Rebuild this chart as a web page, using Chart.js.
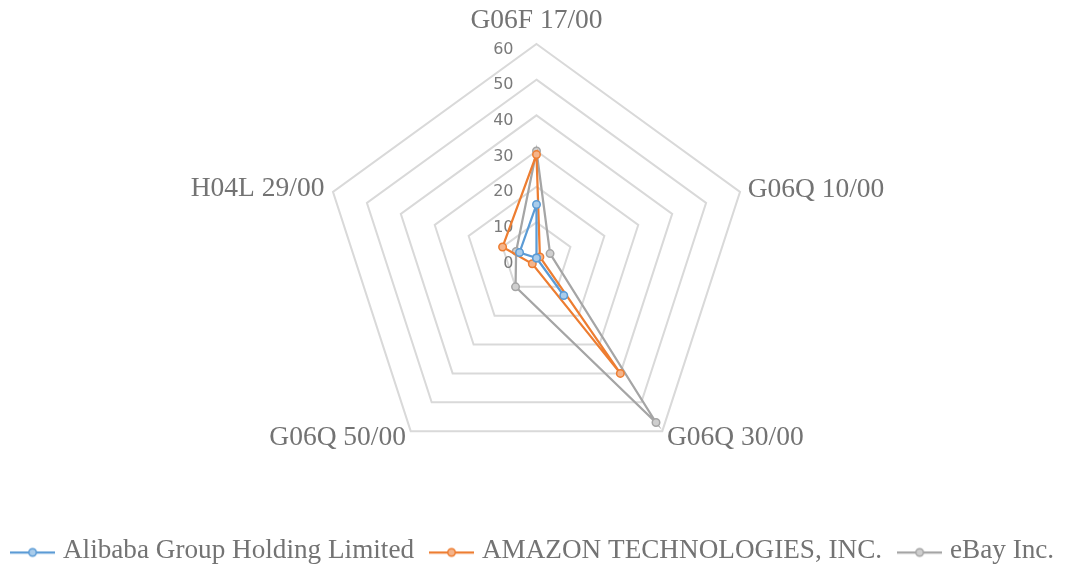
<!DOCTYPE html>
<html>
<head>
<meta charset="utf-8">
<script src="https://cdn.jsdelivr.net/npm/chart.js@4/dist/chart.umd.min.js"></script>
<style>
  html, body { margin: 0; padding: 0; background: #ffffff; }
  canvas { display: block; }
</style>
</head>
<body>
<canvas id="c" width="1074" height="567"></canvas>
<script>
// ---- data ----
const categories = ['G06F 17/00', 'G06Q 10/00', 'G06Q 30/00', 'G06Q 50/00', 'H04L 29/00'];
const seriesNames = ['Alibaba Group Holding Limited', 'AMAZON TECHNOLOGIES, INC.', 'eBay Inc.'];
const alibaba = [15, 0, 13, 0, 5];
const amazon = [29, 1, 40, 2, 10];
const ebay = [30, 4, 57, 10, 6];
const tickMin = 0;
const tickMax = 60;
const tickStep = 10;

// ---- style ----
const lineColors = ['#5B9BD5', '#ED7D31', '#A5A5A5'];
const markerFills = ['#A9CCEB', '#F5B48A', '#CFCFCF'];
const TEXT = '#737373';
const TICKTEXT = '#7a7a7a';
const SERIF = '"Liberation Serif", "Times New Roman", serif';
const labelPad = [23, 8, 8, 8, 9];

function legendMarker(color, fill) {
  const c = document.createElement('canvas');
  c.width = 45; c.height = 20;
  const g = c.getContext('2d');
  const y = 12;
  g.strokeStyle = color;
  g.lineWidth = 2.25;
  g.beginPath(); g.moveTo(0, y); g.lineTo(45, y); g.stroke();
  g.beginPath(); g.arc(22.5, y, 3.75, 0, Math.PI * 2);
  g.fillStyle = fill; g.fill();
  g.lineWidth = 1.5; g.stroke();
  return c;
}
const markers = lineColors.map((c, i) => legendMarker(c, markerFills[i]));

const tickPlugin = {
  id: 'sideTicks',
  beforeDatasetsDraw(chart) {
    const s = chart.scales.r;
    const ctx = chart.ctx;
    ctx.save();
    ctx.font = '16px "DejaVu Sans", sans-serif';
    ctx.fillStyle = TICKTEXT;
    ctx.textAlign = 'right';
    ctx.textBaseline = 'middle';
    s.ticks.forEach(t => {
      const d = s.getDistanceFromCenterForValue(t.value);
      ctx.fillText(String(t.label), s.xCenter - 23, s.yCenter - d + 5.5);
    });
    ctx.restore();
  }
};

function makeDataset(name, values, i) {
  return {
    label: name,
    data: values,
    fill: false,
    borderColor: lineColors[i],
    backgroundColor: lineColors[i],
    borderWidth: 2.25,
    pointRadius: 3.75,
    pointBorderWidth: 1.5,
    pointBackgroundColor: markerFills[i],
    pointBorderColor: lineColors[i],
    tension: 0
  };
}

new Chart(document.getElementById('c'), {
  type: 'radar',
  data: {
    labels: categories,
    datasets: [
      makeDataset(seriesNames[0], alibaba, 0),
      makeDataset(seriesNames[1], amazon, 1),
      makeDataset(seriesNames[2], ebay, 2)
    ]
  },
  options: {
    responsive: false,
    animation: false,
    devicePixelRatio: 1,
    layout: { padding: { left: -13, right: -9, top: 0, bottom: -7 } },
    plugins: {
      legend: {
        position: 'bottom',
        align: 'center',
        labels: {
          usePointStyle: true,
          pointStyleWidth: 33.5,
          padding: 20.75,
          color: TEXT,
          font: { family: SERIF, size: 27.2 },
          generateLabels: (chart) => chart.data.datasets.map((ds, i) => ({
            text: ds.label,
            pointStyle: markers[i],
            fillStyle: ds.borderColor,
            strokeStyle: ds.borderColor,
            lineWidth: 0,
            hidden: false,
            datasetIndex: i,
            fontColor: TEXT
          }))
        }
      },
      tooltip: { enabled: false }
    },
    scales: {
      r: {
        min: tickMin,
        max: tickMax,
        ticks: { stepSize: tickStep, display: false },
        grid: { color: '#D9D9D9', lineWidth: 2 },
        angleLines: { display: false },
        pointLabels: {
          color: TEXT,
          font: { family: SERIF, size: 27.5, lineHeight: 0 },
          padding: (ctx) => labelPad[ctx.index]
        },
        afterSetDimensions: (s) => {
          s.xCenter = 536.5;
          s.yCenter = 258;
          s.drawingArea = 214;
        }
      }
    }
  },
  plugins: [tickPlugin]
});
</script>
</body>
</html>
